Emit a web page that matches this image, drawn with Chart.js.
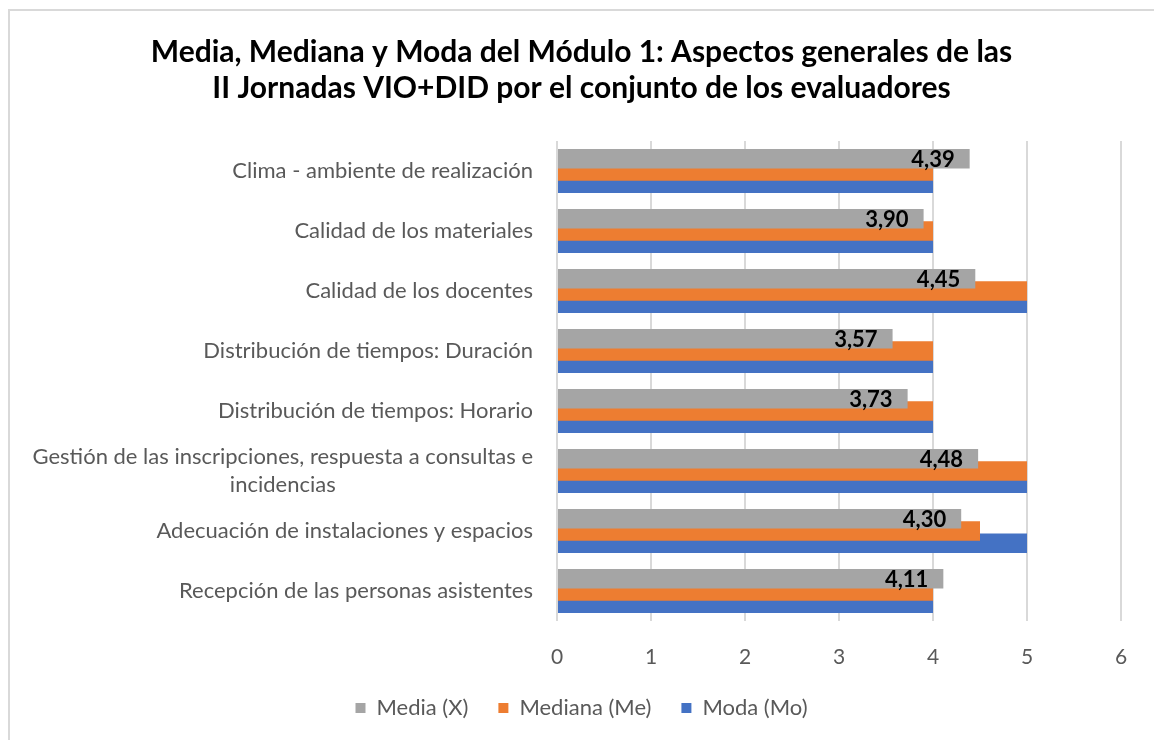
<!DOCTYPE html>
<html>
<head>
<meta charset="utf-8">
<script src="https://cdn.jsdelivr.net/npm/chart.js@4"></script>
<style>
html, body { margin: 0; padding: 0; background: #fff; overflow: hidden; }
#wrap { position: relative; width: 1154px; height: 740px; }
#frame { position: absolute; left: 8px; top: 9px; width: 1200px; height: 800px;
         border-left: 2px solid #d9d9d9; border-top: 2px solid #d9d9d9; }
canvas { position: absolute; left: 0; top: 0; }
</style>
</head>
<body>
<div id="wrap">
  <div id="frame"></div>
  <canvas id="myChart" width="1154" height="740"></canvas>
</div>
<script>
const categories = [
    'Clima - ambiente de realización',
    'Calidad de los materiales',
    'Calidad de los docentes',
    'Distribución de tiempos: Duración',
    'Distribución de tiempos: Horario',
    ['Gestión de las inscripciones, respuesta a consultas e', 'incidencias'],
    'Adecuación de instalaciones y espacios',
    'Recepción de las personas asistentes'
];
const media   = [4.39, 3.90, 4.45, 3.57, 3.73, 4.48, 4.30, 4.11];
const mediana = [4, 4, 5, 4, 4, 5, 4.5, 4];
const moda    = [4, 4, 5, 4, 4, 5, 5, 4];
const xTicks  = [0, 1, 2, 3, 4, 5, 6];

const FONT = 'Lato';

// labels on the Media bars, inside the end
const mediaLabels = {
    id: 'mediaLabels',
    afterDatasetsDraw(chart) {
        const ctx = chart.ctx;
        const meta = chart.getDatasetMeta(0);
        ctx.save();
        ctx.font = 'bold 22px ' + FONT;
        ctx.fillStyle = '#000';
        ctx.textAlign = 'right';
        ctx.textBaseline = 'middle';
        meta.data.forEach((bar, i) => {
            ctx.fillText(media[i].toFixed(2).replace('.', ','), bar.x - 15, bar.y + 1);
        });
        ctx.restore();
    }
};

// category labels, multi-line ones centred as a block
const yLabels = {
    id: 'yLabels',
    afterDraw(chart) {
        const ctx = chart.ctx;
        const y = chart.scales.y;
        const right = chart.chartArea.left - 24;
        ctx.save();
        ctx.font = '22px ' + FONT;
        ctx.fillStyle = '#595959';
        ctx.textAlign = 'center';
        ctx.textBaseline = 'middle';
        categories.forEach((c, i) => {
            const lines = Array.isArray(c) ? c : [c];
            const w = Math.max(...lines.map(l => ctx.measureText(l).width));
            const cy = y.getPixelForTick(i);
            lines.forEach((l, k) => {
                ctx.fillText(l, right - w / 2, cy + (k - (lines.length - 1) / 2) * 28);
            });
        });
        ctx.restore();
    }
};

const ctx = document.getElementById('myChart').getContext('2d');
const myChart = new Chart(ctx, {
    type: 'bar',
    data: {
        labels: categories,
        datasets: [
            { label: 'Media (X)', data: media, backgroundColor: '#A5A5A5' },
            { label: 'Mediana (Me)', data: mediana, backgroundColor: '#ED7D31' },
            { label: 'Moda (Mo)', data: moda, backgroundColor: '#4472C4' }
        ]
    },
    options: {
        indexAxis: 'y',
        responsive: false,
        animation: false,
        categoryPercentage: 0.615,
        barPercentage: 1.58,
        layout: { padding: { top: 34, right: 33, bottom: 11, left: 42 } },
        scales: {
            x: {
                min: 0,
                max: 6,
                afterBuildTicks: s => { s.ticks = xTicks.map(v => ({ value: v })); },
                ticks: { color: '#595959', font: { family: FONT, size: 21 }, padding: 24 },
                grid: { color: '#d9d9d9', lineWidth: 2, drawTicks: false },
                border: { display: false },
                afterFit: s => { s.height = 46; }
            },
            y: {
                ticks: { display: false },
                grid: { display: false },
                border: { display: false },
                afterFit: s => { s.width = 515; }
            }
        },
        plugins: {
            title: {
                display: true,
                text: ['Media, Mediana y Moda del Módulo 1: Aspectos generales de las',
                       'II Jornadas VIO+DID por el conjunto de los evaluadores'],
                color: '#000',
                font: { family: FONT, size: 30, weight: 'bold', lineHeight: 1.2 },
                padding: { top: 0, bottom: 35 }
            },
            legend: {
                position: 'bottom',
                labels: {
                    color: '#595959',
                    font: { family: FONT, size: 22 },
                    boxWidth: 10,
                    boxHeight: 10,
                    padding: 30
                }
            },
            tooltip: { enabled: false }
        }
    },
    plugins: [mediaLabels, yLabels]
});
</script>
</body>
</html>
